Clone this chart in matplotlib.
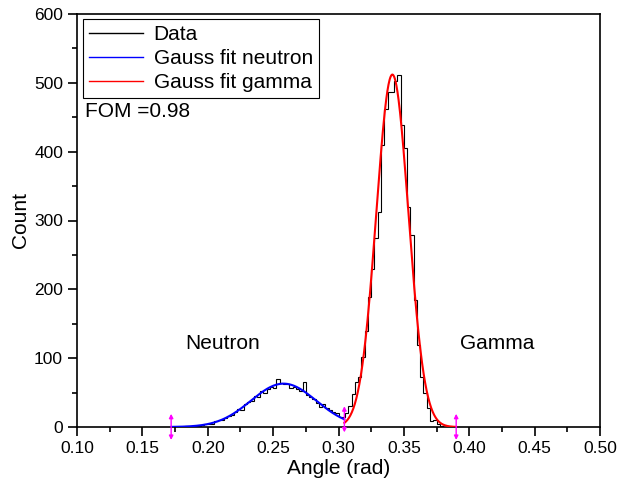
import numpy as np
import matplotlib
matplotlib.use("Agg")
import matplotlib.pyplot as plt

plt.rcParams['font.family'] = ['Liberation Sans', 'DejaVu Sans']

# ---- data ----
bin_start = 0.170
bin_width = 0.0025
counts = [0, 0, 0, 0, 0, 1, 1, 2, 2, 2,
          3, 4, 5, 5, 8, 10, 10, 13, 16, 17,
          22, 26, 24, 33, 36, 38, 45, 44, 52, 50,
          55, 58, 57, 70, 64, 63, 62, 56, 58, 55,
          53, 66, 47, 44, 40, 35, 29, 33, 28, 25,
          22, 21, 14, 15, 20, 30, 48, 66, 72, 102,
          140, 189, 229, 275, 313, 410, 462, 486, 486, 502,
          512, 439, 405, 320, 279, 185, 119, 73, 49, 27,
          8, 10, 4, 1, 0, 0, 0, 0]

fit_labels = ["Gauss fit neutron", "Gauss fit gamma"]
fit_colors = ["#0000FF", "#FF0000"]
fit_amp = [63.0, 512.0]
fit_center = [0.258, 0.3412]
fit_sigma = [0.025, 0.0123]
fit_from = [0.172, 0.3045]
fit_to = [0.3045, 0.390]

marker_x = [0.172, 0.3045, 0.390]
marker_fit = [0, 0, 1]

fom_text = "FOM =0.98"
region_labels = ["Neutron", "Gamma"]
region_x = [0.2115, 0.4215]
region_y = [122, 122]

x_ticks = [0.10, 0.15, 0.20, 0.25, 0.30, 0.35, 0.40, 0.45, 0.50]
y_ticks = [0, 100, 200, 300, 400, 500, 600]


def gauss(x, a, c, s):
    return a * np.exp(-(x - c) ** 2 / (2 * s ** 2))


fig = plt.figure(figsize=(6.29, 4.80), dpi=100)
ax = fig.add_axes([77 / 629, 1 - 427 / 480, 523 / 629, 413 / 480])

edges = bin_start + bin_width * np.arange(len(counts) + 1)
ax.stairs(counts, edges, color="black", lw=0.8, label="Data", baseline=None, zorder=2)

for i in range(len(fit_labels)):
    xs = np.linspace(fit_from[i], fit_to[i], 300)
    ax.plot(xs, gauss(xs, fit_amp[i], fit_center[i], fit_sigma[i]),
            color=fit_colors[i], lw=1.5, label=fit_labels[i], zorder=3)

for mx, fi in zip(marker_x, marker_fit):
    yc = gauss(mx, fit_amp[fi], fit_center[fi], fit_sigma[fi])
    ax.annotate("", xy=(mx, yc + 19), xytext=(mx, yc - 19),
                arrowprops=dict(arrowstyle="<|-|>", color="#FF00FF", lw=1.0,
                                mutation_scale=6, shrinkA=0, shrinkB=0),
                annotation_clip=False, zorder=5)

ax.set_xlim(0.10, 0.50)
ax.set_ylim(0, 600)
ax.set_xticks(x_ticks)
ax.set_xticklabels([f"{t:.2f}" for t in x_ticks])
ax.set_yticks(y_ticks)
ax.set_xticks(np.arange(0.10, 0.5001, 0.025), minor=True)
ax.set_yticks(np.arange(0, 601, 50), minor=True)

ax.tick_params(which="major", direction="out", length=6.5, width=1.2, labelsize=12.5,
               top=False, right=False, colors="black")
ax.tick_params(which="minor", direction="out", length=3.5, width=1.2,
               top=False, right=False)
for sp in ax.spines.values():
    sp.set_linewidth(1.2)

ax.set_xlabel("Angle (rad)", fontsize=15, labelpad=2)
ax.set_ylabel("Count", fontsize=15, labelpad=3)

leg = ax.legend(loc="upper left", bbox_to_anchor=(0.011, 0.988), borderaxespad=0,
                fontsize=15, frameon=True, fancybox=False, framealpha=1,
                edgecolor="black", borderpad=0.3, labelspacing=0.24,
                handlelength=2.6, handletextpad=0.5)
leg.get_frame().set_linewidth(0.8)
for line in leg.get_lines():
    line.set_linewidth(1.0)

ax.text(0.1061, 458, fom_text, fontsize=15, ha="left", va="center")
for lab, lx, ly in zip(region_labels, region_x, region_y):
    ax.text(lx, ly, lab, fontsize=15, ha="center", va="center")

fig.savefig("out.png", dpi=100)
